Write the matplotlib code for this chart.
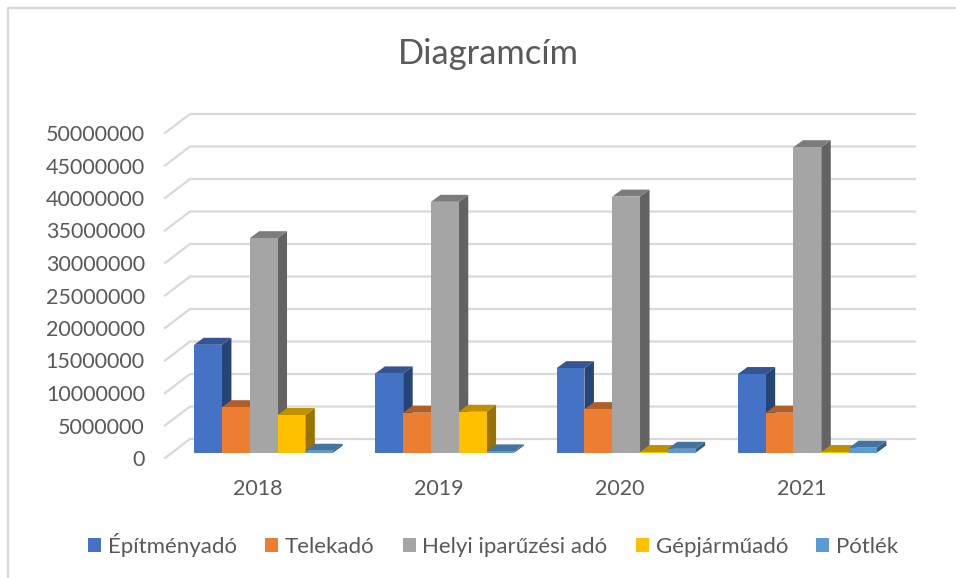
import matplotlib
matplotlib.use('Agg')
import matplotlib.pyplot as plt
from matplotlib.lines import Line2D
from matplotlib.patches import Patch, Polygon
from matplotlib.transforms import Affine2D

years = ['2018', '2019', '2020', '2021']
series_names = ['Építményadó', 'Telekadó', 'Helyi iparűzési adó', 'Gépjárműadó', 'Pótlék']
epitmeny = [16600000, 12200000, 13000000, 12100000]
telek = [7000000, 6150000, 6700000, 6150000]
ipar = [33000000, 38600000, 39400000, 47000000]
gepjarmu = [5800000, 6300000, 100000, 100000]
potlek = [300000, 200000, 600000, 770000]
yticks = list(range(0, 50000001, 5000000))

front_colors = ['#4472c4', '#ed7d31', '#a5a5a5', '#ffc000', '#5b9bd5']
top_colors = ['#335593', '#b25e25', '#7c7c7c', '#bf9000', '#44749f']
side_colors = ['#274476', '#8e4b1d', '#636363', '#997300', '#375d80']
text_color = '#595959'
grid_color = '#d9d9d9'

W, H = 956, 578
plt.rcParams['font.family'] = ['Lato', 'DejaVu Sans']

fig = plt.figure(figsize=(W / 100, H / 100), dpi=100)
# plot area in pixels: floor front edge runs 165-890 at y=458, 50M is at y=133
ax = fig.add_axes([165 / W, 1 - 458 / H, 725 / W, 325 / H])
ax.set_xlim(-0.5, 3.5)
ax.set_ylim(0, 50000000)
for s in ax.spines.values():
    s.set_visible(False)
ax.patch.set_visible(False)

# pixel sizes turned into data units
px_x = 4 / 725
px_y = 50000000 / 325
wall_dx, wall_dy = 25 * px_x, 19 * px_y
floor_dx, floor_dy = 8 * px_x, 5.3 * px_y
depth_dx, depth_dy = 9.5 * px_x, 7 * px_y
bar_w = 27.8 * px_x

for v in yticks:
    ax.plot([-0.5, -0.5 + wall_dx, 3.5 + wall_dx], [v, v + wall_dy, v + wall_dy],
            color=grid_color, lw=1.6, clip_on=False, zorder=1)

all_series = [epitmeny, telek, ipar, gepjarmu, potlek]
for i in range(len(years)):
    for k, vals in enumerate(all_series):
        v = vals[i]
        x0 = i + (k - 2.5) * bar_w + floor_dx
        x1 = x0 + bar_w
        y0 = floor_dy
        y1 = v + floor_dy
        z = 2 + i + k * 0.1
        ax.add_patch(Polygon([(x1, y0), (x1 + depth_dx, y0 + depth_dy),
                              (x1 + depth_dx, y1 + depth_dy), (x1, y1)],
                             fc=side_colors[k], ec='none', clip_on=False, zorder=z))
        ax.add_patch(Polygon([(x0, y1), (x0 + depth_dx, y1 + depth_dy),
                              (x1 + depth_dx, y1 + depth_dy), (x1, y1)],
                             fc=top_colors[k], ec='none', clip_on=False, zorder=z))
        ax.bar(x0, v, bar_w, bottom=y0, align='edge', color=front_colors[k],
               clip_on=False, zorder=z + 0.01)

ax.set_xlim(-0.5, 3.5)
ax.set_ylim(0, 50000000)
ax.set_xticks(range(len(years)))
ax.set_xticklabels(years)
ax.set_yticks(yticks)
ax.set_yticklabels([str(v) for v in yticks])
ax.tick_params(axis='both', length=0, colors=text_color, labelsize=15.5)
ax.tick_params(axis='y', pad=14.5)
ax.tick_params(axis='x', pad=15)
for lab in ax.get_xticklabels():
    lab.set_transform(lab.get_transform() + Affine2D().translate(2, 0))

fig.text(488 / W, 1 - 54 / H, 'Diagramcím', color=text_color, fontsize=24.8,
         ha='center', va='center')

handles = [Patch(fc=c, ec='none') for c in front_colors]
fig.legend(handles, series_names, ncol=5, loc='center', bbox_to_anchor=(493 / W, 1 - 545 / H),
           frameon=False, fontsize=16, labelcolor=text_color, handlelength=0.59,
           handleheight=0.59, handletextpad=0.3, columnspacing=1.27)

# chart frame, only left and top edges are inside the crop
fig.add_artist(Line2D([8 / W, 8 / W, 1], [0, 1 - 8 / H, 1 - 8 / H], color=grid_color, lw=1.6))

fig.savefig('out.png', dpi=100, facecolor='white')
